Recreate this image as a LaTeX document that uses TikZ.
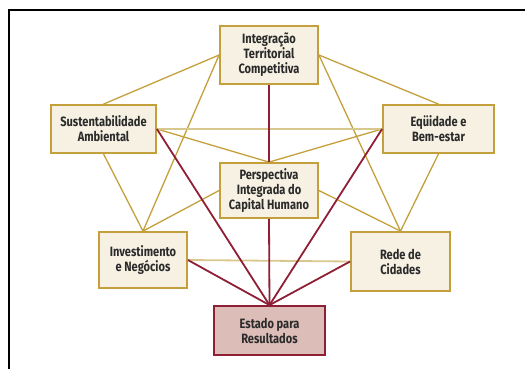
\documentclass[tikz,border=0pt]{standalone}
\usepackage{fontspec}
\setmainfont{Fira Sans}[FakeStretch=0.82]
\definecolor{gold}{HTML}{C4A03C}
\definecolor{lightgold}{HTML}{D9C88E}
\definecolor{wine}{HTML}{8E1F35}
\definecolor{cream}{HTML}{F6F1E3}
\definecolor{rose}{HTML}{DDBDB8}
\definecolor{txt}{HTML}{2A2A2A}
\tikzset{
  box/.style={draw=gold, line width=1.8pt, fill=cream, inner sep=0pt,
    align=center, text=txt, font=\fontsize{13.5}{15}\selectfont\bfseries},
  goal/.style={box, draw=wine, fill=rose},
  gl/.style={draw=gold, line width=1.3pt},
  hl/.style={draw=lightgold, line width=1.8pt},
  rl/.style={draw=wine, line width=1.8pt},
}
\begin{document}
\begin{tikzpicture}[x=1pt,y=-1pt]
\useasboundingbox (0,0) rectangle (525,369);
\draw[black, line width=2pt] (9,369) -- (9,10) -- (525,10);

\node[box, minimum width=98pt, minimum height=58pt] (top) at (269,55) {Integração\\Territorial\\Competitiva};
\node[box, minimum width=105pt, minimum height=48pt] (sust) at (103.5,129) {Sustentabilidade\\Ambiental};
\node[box, minimum width=111pt, minimum height=48pt] (equi) at (438.5,129) {Eqüidade e\\Bem-estar};
\node[box, minimum width=98pt, minimum height=55pt] (persp) at (269,190.5) {Perspectiva\\Integrada do\\Capital Humano};
\node[box, minimum width=88pt, minimum height=56pt] (inv) at (143,260) {Investimento\\e Negócios};
\node[box, minimum width=99pt, minimum height=59pt] (rede) at (400.5,261.5) {Rede de\\Cidades};
\node[goal, minimum width=111pt, minimum height=49pt] (est) at (269.5,330.5) {Estado para\\Resultados};

\draw[gl] (top.west) -- (sust.north);
\draw[gl] (top.east) -- (equi.north);
\draw[gl] (top.west) -- (inv.north);
\draw[gl] (top.east) -- (rede.north);
\draw[gl] (sust.south) -- (inv.north);
\draw[gl] (equi.south) -- (rede.north);
\draw[gl] (sust.east) -- (persp.north);
\draw[gl] (equi.west) -- (persp.north);
\draw[gl] (persp.west) -- (inv.north);
\draw[gl] (persp.east) -- (rede.north);
\draw[hl] (sust.east) -- (equi.west);
\draw[hl] (inv.east) -- (rede.west);
\draw[rl] (top.south) -- (persp.north);
\draw[rl] (persp.south) -- (est.north);
\draw[rl] (sust.east) -- (est.north);
\draw[rl] (equi.west) -- (est.north);
\draw[rl] (inv.east) -- (est.north);
\draw[rl] (rede.west) -- (est.north);
\end{tikzpicture}
\end{document}
